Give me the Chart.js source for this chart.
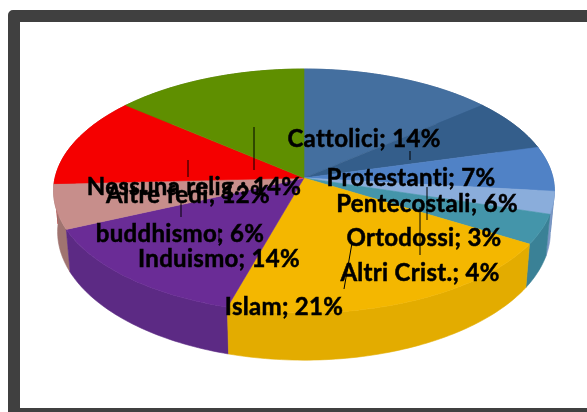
<!DOCTYPE html>
<html>
<head>
<meta charset="utf-8">
<title>Religioni</title>
<script src="https://cdn.jsdelivr.net/npm/chart.js@4"></script>
<style>
  html, body { margin: 0; padding: 0; background: #fff; overflow: hidden; }
  #frame {
    position: absolute; left: 8px; top: 10px; width: 600px; height: 410px;
    border: 12px solid #404040; border-radius: 5px; box-sizing: border-box;
  }
  #pie { position: absolute; left: 0; top: 0; }
</style>
</head>
<body>
<div id="frame"></div>
<canvas id="pie" width="587" height="412"></canvas>
<script>
// names and shares, clockwise from twelve o'clock
const names = ["Cattolici", "Protestanti", "Pentecostali", "Ortodossi", "Altri Crist.", "Islam", "Induismo", "buddhismo", "Altre fedi", "Nessuna relig."];
const shares = [14, 7, 6, 3, 4, 21, 14, 6, 12, 14];
const topColors = ["#446f9f", "#345e8b", "#5082c6", "#8aaddb", "#4495aa", "#f4b700", "#6a2c96", "#c78e8b", "#f50000", "#5f8f00"];
const sideColors = ["#38608c", "#2c5078", "#4470a8", "#7a97c4", "#3a8196", "#e3ac00", "#5c2a84", "#a07470", "#c80000", "#4f7800"];

// label centres and leader lines, laid out by hand
const labelPos = [[364, 139], [411, 178], [427, 204], [424, 238], [420, 273], [284, 307], [219, 259], [180, 234], [188, 195], [194, 187]];
const leaders = [
    [410, 151, 410, 160], [427, 187, 427, 220], [420, 207, 420, 255], [352, 243, 344, 289],
    [254, 127, 254, 170], [188, 160, 188, 177], [181, 202, 181, 217], [219, 228, 219, 243]
];

// ================= 3D PROJECTION =================
const topFace = { cx: 304, cy: 178, rx: 249, ry: 120.6, tilt: 0.1066 };
const baseFace = { cx: 304, cy: 218, rx: 245, ry: 127, tilt: 0.1066 };

function project(face, a) {
    const u = Math.cos(a), v = Math.sin(a), w = 1 - face.tilt * v;
    return [face.cx + face.rx * u / w, face.cy + face.ry * v / w];
}

function arcPoints(face, a0, a1) {
    const n = Math.max(2, Math.ceil((a1 - a0) / 0.02));
    const pts = [];
    for (let i = 0; i <= n; i++) pts.push(project(face, a0 + (a1 - a0) * i / n));
    return pts;
}

function fillPath(ctx, pts, color) {
    ctx.beginPath();
    pts.forEach((p, i) => i ? ctx.lineTo(p[0], p[1]) : ctx.moveTo(p[0], p[1]));
    ctx.closePath();
    ctx.fillStyle = color;
    ctx.strokeStyle = color;
    ctx.lineWidth = 0.6;
    ctx.fill();
    ctx.stroke();
}

// paints the pie arcs as a tilted solid, walls first
const solidPie = {
    id: "solidPie",
    beforeDatasetDraw(chart, args) {
        const ctx = chart.ctx, arcs = args.meta.data;
        ctx.save();
        const order = arcs.map((_, i) => i).sort((a, b) =>
            Math.sin((arcs[a].startAngle + arcs[a].endAngle) / 2) - Math.sin((arcs[b].startAngle + arcs[b].endAngle) / 2));
        order.forEach(i => {
            const t = arcPoints(topFace, arcs[i].startAngle, arcs[i].endAngle);
            const b = arcPoints(baseFace, arcs[i].startAngle, arcs[i].endAngle);
            fillPath(ctx, t.concat(b.reverse()), sideColors[i]);
        });
        arcs.forEach((arc, i) => {
            const t = arcPoints(topFace, arc.startAngle, arc.endAngle);
            fillPath(ctx, [[topFace.cx, topFace.cy]].concat(t), arc.options.backgroundColor);
        });
        ctx.restore();
        return false;
    },
    afterDatasetsDraw(chart) {
        const ctx = chart.ctx;
        ctx.save();
        ctx.strokeStyle = "#000";
        ctx.lineWidth = 1;
        leaders.forEach(l => {
            ctx.beginPath();
            ctx.moveTo(l[0], l[1]);
            ctx.lineTo(l[2], l[3]);
            ctx.stroke();
        });
        ctx.fillStyle = "#000";
        ctx.font = "bold 24px Lato";
        ctx.letterSpacing = "0.3px";
        ctx.lineWidth = 0.5;
        ctx.textAlign = "center";
        ctx.textBaseline = "middle";
        names.forEach((n, i) => {
            const text = `${n}; ${shares[i]}%`;
            ctx.fillText(text, labelPos[i][0], labelPos[i][1]);
            ctx.strokeText(text, labelPos[i][0], labelPos[i][1]);
        });
        ctx.restore();
    }
};

new Chart(document.getElementById("pie"), {
    type: "pie",
    data: { labels: names, datasets: [{ data: shares, backgroundColor: topColors, borderWidth: 0 }] },
    options: {
        responsive: false,
        animation: false,
        plugins: { legend: { display: false }, tooltip: { enabled: false } }
    },
    plugins: [solidPie]
});
</script>
</body>
</html>
